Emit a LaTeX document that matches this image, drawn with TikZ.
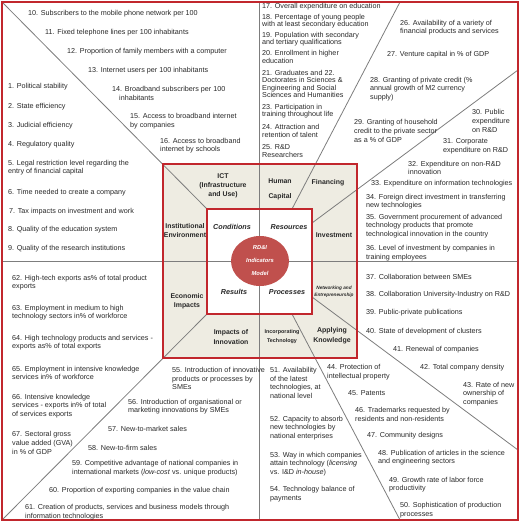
\documentclass[tikz,border=0pt]{standalone}
\usepackage{fontspec}
\setmainfont{Liberation Sans}
\usetikzlibrary{shapes.geometric}
\definecolor{framered}{RGB}{193,39,45}
\definecolor{beige}{RGB}{238,236,226}
\definecolor{ellred}{RGB}{192,80,77}
\definecolor{lgray}{RGB}{125,125,125}
\definecolor{txt}{RGB}{40,40,40}
\newcommand\itf{\fontsize{7.2}{8.6}\selectfont}
\newcommand\itft{\fontsize{7.2}{7.6}\selectfont}
\newcommand\lbf{\fontsize{6.9}{9.3}\selectfont\bfseries}
\newcommand\qf{\fontsize{7.2}{9}\selectfont\bfseries\itshape}
\tikzset{
  item/.style={anchor=west, inner sep=0pt, align=left, font=\itf, text=txt},
  itemt/.style={anchor=west, inner sep=0pt, align=left, font=\itft, text=txt},
  lab/.style={inner sep=0pt, align=center, font=\lbf, text=txt},
  quad/.style={inner sep=0pt, font=\qf, text=txt},
  grayline/.style={draw=lgray, line width=0.8pt},
  redline/.style={draw=framered, line width=1.6pt},
}
\begin{document}
\begin{tikzpicture}[x=1pt,y=-1pt]
\useasboundingbox (0,0) rectangle (520,524);
% key coordinates
\coordinate (oTL) at (2,2);
\coordinate (oBR) at (518,520);
\coordinate (oBL) at (2,520);
\coordinate (bTL) at (163,164);
\coordinate (bBR) at (357,358);
\coordinate (iTL) at (207,209);
\coordinate (iBR) at (312,314);
\coordinate (iBL) at (207,314);
\coordinate (vTop) at (259,2);
\coordinate (vBot) at (259,520);
\coordinate (hL) at (2,261);
\coordinate (hR) at (518,261);
\coordinate (hfTop) at (400,2);
\coordinate (hfIn) at (292,209);
\coordinate (fiOut) at (518,70);
\coordinate (fiIn) at (312,223);
\coordinate (naIn) at (312,297);
\coordinate (naOut) at (518,450);
\coordinate (itIn) at (292,314);
\coordinate (itOut) at (400,520);
% fills
\fill[beige] (bTL) rectangle (bBR);
\fill[white] (iTL) rectangle (iBR);
% gray dividers
\draw[grayline] (vTop) -- (vBot);
\draw[grayline] (hL) -- (hR);
\draw[grayline] (oTL) -- (iTL);
\draw[grayline] (oBL) -- (iBL);
\draw[grayline] (hfTop) -- (hfIn);
\draw[grayline] (fiOut) -- (fiIn);
\draw[grayline] (naIn) -- (naOut);
\draw[grayline] (itIn) -- (itOut);
% red borders
\draw[redline] (oTL) rectangle (oBR);
\draw[redline] (bTL) rectangle (bBR);
\draw[redline] (iTL) rectangle (iBR);
% central ellipse
\node[ellipse, fill=ellred, minimum width=58pt, minimum height=50pt, inner sep=0pt,
      align=center, text=white, font=\fontsize{5.8}{13}\selectfont\bfseries\itshape]
      (core) at (260,261) {RD\&I\\Indicators\\Model};
% quadrant labels
\node[quad] (qc) at (232,227) {Conditions};
\node[quad] (qr) at (289,227) {Resources};
\node[quad] (qs) at (234,292) {Results};
\node[quad] (qp) at (287,292) {Processes};
% beige labels
\node[lab] (lict) at (223,186) {ICT\\(Infrastructure\\and Use)};
\node[lab] (linst) at (185,230.5) {Institutional\\Environment};
\node[lab] (lhum) at (280,189.5) {Human\\[5.5pt]Capital};
\node[lab] (lfin) at (328,183) {Financing};
\node[lab] (linv) at (334,235) {Investment};
\node[lab] (leco) at (187,301.5) {Economic\\Impacts};
\node[lab] (limp) at (231,337) {Impacts of\\Innovation};
\node[lab, font=\fontsize{5.4}{9}\selectfont\bfseries] (linc) at (282,337) {Incorporating\\Technology};
\node[lab, font=\fontsize{7}{10}\selectfont\bfseries] (lapp) at (332,336) {Applying\\Knowledge};
\node[lab, font=\fontsize{4.7}{7.5}\selectfont\bfseries\itshape] (lnet) at (334,292) {Networking and\\Entrepreneurship};
% items 1-9
\node[item] (n1) at (8,87) {1. Political stability};
\node[item] (n2) at (8,107) {2. State efficiency};
\node[item] (n3) at (8,126) {3. Judicial efficiency};
\node[item] (n4) at (8,145) {4. Regulatory quality};
\node[item] (n5) at (8,167.5) {5. Legal restriction level regarding the\\entry of financial capital};
\node[item] (n6) at (8,193) {6. Time needed to create a company};
\node[item] (n7) at (9,212) {7. Tax impacts on investment and work};
\node[item] (n8) at (8,230) {8. Quality of the education system};
\node[item] (n9) at (8,249) {9. Quality of the research institutions};
% items 10-16
\node[item] (n10) at (28,14) {10. Subscribers to the mobile phone network per 100};
\node[item] (n11) at (45,33) {11. Fixed telephone lines per 100 inhabitants};
\node[item] (n12) at (67,52) {12. Proportion of family members with a computer};
\node[item] (n13) at (88,71) {13. Internet users per 100 inhabitants};
\node[item] (n14) at (112,93.5) {14. Broadband subscribers per 100\\\hspace*{7pt}inhabitants};
\node[item] (n15) at (130,121) {15. Access to broadband internet\\by companies};
\node[item] (n16) at (160,145.5) {16. Access to broadband\\internet by schools};
% items 17-25
\node[itemt] (n17) at (262,7) {17. Overall expenditure on education};
\node[itemt] (n18) at (262,21) {18. Percentage of young people\\with at least secondary education};
\node[itemt] (n19) at (262,39) {19. Population with secondary\\and tertiary qualifications};
\node[itemt] (n20) at (262,57) {20. Enrollment in higher\\education};
\node[itemt] (n21) at (262,84) {21. Graduates and 22.\\Doctorates in Sciences \&\\Engineering and Social\\Sciences and Humanities};
\node[itemt] (n23) at (262,111) {23. Participation in\\training throughout life};
\node[itemt] (n24) at (262,131) {24. Attraction and\\retention of talent};
\node[itemt] (n25) at (262,151) {25. R\&D\\Researchers};
% items 26-29
\node[item] (n26) at (400,27.5) {26. Availability of a variety of\\financial products and services};
\node[item] (n27) at (387,55) {27. Venture capital in \% of GDP};
\node[item] (n28) at (370,89) {28. Granting of private credit (\%\\annual growth of M2 currency\\supply)};
\node[item] (n29) at (354,131) {29. Granting of household\\credit to the private sector\\as a \% of GDP};
% items 30-36
\node[item] (n30) at (472,121) {30. Public\\expenditure\\on R\&D};
\node[item] (n31) at (443,146) {31. Corporate\\expenditure on R\&D};
\node[item] (n32) at (408,168) {32. Expenditure on non-R\&D\\innovation};
\node[item] (n33) at (371,184) {33. Expenditure on information technologies};
\node[item] (n34) at (366,201.5) {34. Foreign direct investment in transferring\\new technologies};
\node[item] (n35) at (366,226) {35. Government procurement of advanced\\technology products that promote\\technological innovation in the country};
\node[item] (n36) at (366,253) {36. Level of investment by companies in\\training employees};
% items 37-43
\node[item] (n37) at (366,277) {37. Collaboration between SMEs};
\node[item] (n38) at (366,295) {38. Collaboration University-Industry on R\&D};
\node[item] (n39) at (366,313) {39. Public-private publications};
\node[item] (n40) at (366,332) {40. State of development of clusters};
\node[item] (n41) at (393,350) {41. Renewal of companies};
\node[item] (n42) at (420,368) {42. Total company density};
\node[item] (n43) at (463,394) {43. Rate of new\\ownership of\\companies};
% items 44-50
\node[item] (n44) at (327,372) {44. Protection of\\intellectual property};
\node[item] (n45) at (348,393) {45. Patents};
\node[item] (n46) at (355,414.5) {46. Trademarks requested by\\residents and non-residents};
\node[item] (n47) at (367,436) {47. Community designs};
\node[item] (n48) at (378,457.5) {48. Publication of articles in the science\\and engineering sectors};
\node[item] (n49) at (389,484.5) {49. Growth rate of labor force\\productivity};
\node[item] (n50) at (400,510) {50. Sophistication of production\\processes};
% items 51-54
\node[item] (n51) at (270,383) {51. Availability\\of the latest\\technologies, at\\national level};
\node[item] (n52) at (270,428) {52. Capacity to absorb\\new technologies by\\national enterprises};
\node[item] (n53) at (270,464) {53. Way in which companies\\attain technology (\textit{licensing}\\vs. I\&D \textit{in-house})};
\node[item] (n54) at (270,494) {54. Technology balance of\\payments};
% items 55-61
\node[item] (n55) at (172,378.6) {55. Introduction of innovative\\products or processes by\\SMEs};
\node[item] (n56) at (128,406.5) {56. Introduction of organisational or\\marketing innovations by SMEs};
\node[item] (n57) at (108,429) {57. New-to-market sales};
\node[item] (n58) at (88,448) {58. New-to-firm sales};
\node[item] (n59) at (72,468) {59. Competitive advantage of national companies in\\international markets (\textit{low-cost} vs. unique products)};
\node[item] (n60) at (49,491) {60. Proportion of exporting companies in the value chain};
\node[item] (n61) at (25,512) {61. Creation of products, services and business models through\\information technologies};
% items 62-67
\node[item] (n62) at (12,282.5) {62. High-tech exports as\% of total product\\exports};
\node[item] (n63) at (12,312.5) {63. Employment in medium to high\\technology sectors in\% of workforce};
\node[item] (n64) at (12,342.5) {64. High technology products and services -\\exports as\% of total exports};
\node[item] (n65) at (12,373) {65. Employment in intensive knowledge\\services in\% of workforce};
\node[item] (n66) at (12,406) {66. Intensive knowledge\\services - exports in\% of total\\of services exports};
\node[item] (n67) at (12,443) {67. Sectoral gross\\value added (GVA)\\in \% of GDP};
\end{tikzpicture}
\end{document}
